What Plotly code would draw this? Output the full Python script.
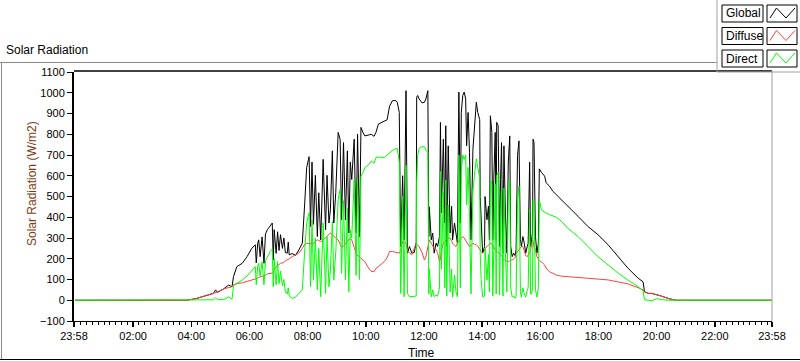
import plotly.graph_objects as go

DAY = "2024-06-01"
PREV_DAY = "2024-05-31"

times = [
    "00:00", "03:50", "04:10", "04:26", "04:46", "04:50", "04:54", "05:07", "05:17", "05:24",
    "05:27", "05:34", "05:45", "05:55", "06:05", "06:12", "06:14", "06:17", "06:19", "06:22",
    "06:26", "06:30", "06:33", "06:37", "06:43", "06:47", "06:49", "06:51", "06:55", "06:58",
    "07:01", "07:04", "07:08", "07:11", "07:14", "07:18", "07:20", "07:22", "07:28", "07:35",
    "07:42", "07:49", "07:54", "07:58", "08:03", "08:06", "08:09", "08:12", "08:16", "08:20",
    "08:23", "08:27", "08:32", "08:37", "08:40", "08:44", "08:47", "08:51", "08:54", "08:58",
    "09:03", "09:07", "09:10", "09:14", "09:18", "09:22", "09:25", "09:28", "09:31", "09:36",
    "09:40", "09:43", "09:47", "09:50", "09:54", "09:58", "10:07", "10:11", "10:17", "10:21",
    "10:26", "10:38", "10:44", "10:49", "10:55", "11:02", "11:05", "11:09", "11:12", "11:16",
    "11:19", "11:23", "11:26", "11:30", "11:35", "11:40", "11:44", "11:45", "11:47", "11:50",
    "11:56", "12:01", "12:04", "12:08", "12:10", "12:11", "12:15", "12:18", "12:21", "12:25",
    "12:28", "12:32", "12:34", "12:36", "12:40", "12:43", "12:45", "12:47", "12:50", "12:54",
    "12:57", "12:59", "13:03", "13:06", "13:09", "13:12", "13:15", "13:17", "13:20", "13:23",
    "13:26", "13:28", "13:31", "13:34", "13:37", "13:41", "13:44", "13:48", "13:51", "13:55",
    "13:56", "13:58", "14:01", "14:05", "14:06", "14:10", "14:13", "14:15", "14:17", "14:20",
    "14:22", "14:24", "14:27", "14:29", "14:30", "14:33", "14:36", "14:38", "14:40", "14:43",
    "14:45", "14:48", "14:51", "14:54", "14:57", "14:59", "15:02", "15:05", "15:08", "15:10",
    "15:13", "15:16", "15:19", "15:21", "15:24", "15:27", "15:30", "15:33", "15:35", "15:38",
    "15:40", "15:42", "15:44", "15:45", "15:47", "15:50", "15:53", "15:56", "15:58", "16:02",
    "16:05", "16:09", "16:12", "16:19", "16:26", "16:33", "16:44", "16:56", "17:18", "17:38",
    "17:59", "18:20", "18:41", "19:01", "19:22", "19:32", "19:35", "19:43", "19:50", "20:00",
    "20:10", "20:25", "20:40", "23:58",
]

global_rad = [
    0, 0, 8, 20, 33, 50, 38, 55, 73, 65,
    114, 162, 178, 210, 251, 267, 180, 275, 291, 210,
    305, 178, 320, 340, 356, 372, 194, 340, 226, 330,
    240, 316, 250, 300, 230, 227, 280, 219, 225, 216,
    243, 275, 469, 639, 692, 356, 666, 366, 602, 307,
    518, 291, 679, 340, 602, 372, 437, 720, 372, 518,
    809, 776, 388, 760, 388, 720, 324, 666, 582, 776,
    324, 800, 307, 833, 809, 792, 797, 800, 790, 809,
    849, 865, 870, 935, 962, 962, 954, 905, 259, 600,
    291, 1010, 227, 259, 227, 230, 280, 979, 987, 970,
    951, 954, 970, 1010, 307, 450, 291, 324, 227, 275,
    259, 307, 857, 421, 776, 372, 841, 259, 744, 324,
    453, 291, 372, 307, 275, 1003, 372, 905, 987, 1003,
    970, 744, 905, 711, 291, 728, 825, 954, 905, 870,
    501, 388, 227, 259, 500, 388, 453, 291, 889, 809,
    291, 582, 809, 291, 857, 841, 259, 582, 760, 227,
    744, 421, 227, 666, 792, 259, 210, 227, 215, 243,
    698, 768, 291, 259, 307, 275, 227, 259, 275, 666,
    259, 291, 330, 776, 760, 307, 227, 275, 633, 617,
    610, 598, 566, 550, 525, 509, 485, 453, 404, 356,
    316, 267, 210, 154, 106, 89, 40, 33, 33, 28,
    20, 8, 0, 0,
]

diffuse_rad = [
    0, 0, 8, 20, 33, 38, 40, 55, 62, 65,
    75, 80, 84, 90, 97, 103, 104, 106, 110, 112,
    114, 117, 120, 127, 129, 131, 135, 150, 162, 165,
    172, 178, 180, 182, 190, 194, 196, 200, 210, 218,
    227, 250, 270, 275, 275, 273, 272, 272, 285, 291,
    288, 283, 290, 300, 307, 315, 324, 315, 307, 300,
    291, 270, 255, 260, 275, 285, 290, 299, 290, 250,
    227, 215, 210, 202, 195, 186, 150, 140, 137, 154,
    162, 186, 205, 235, 235, 230, 227, 227, 240, 283,
    280, 275, 240, 227, 220, 250, 275, 270, 265, 259,
    230, 194, 210, 250, 280, 291, 275, 259, 250, 243,
    230, 186, 200, 240, 275, 285, 291, 295, 300, 300,
    285, 275, 265, 259, 275, 285, 291, 300, 307, 300,
    290, 280, 275, 259, 265, 275, 270, 267, 260, 243,
    240, 235, 227, 240, 250, 259, 265, 270, 275, 270,
    260, 250, 243, 240, 235, 230, 227, 220, 215, 202,
    195, 190, 188, 186, 190, 194, 194, 200, 205, 225,
    235, 245, 255, 259, 259, 240, 215, 210, 220, 227,
    240, 270, 291, 285, 260, 243, 210, 194, 190, 186,
    180, 170, 155, 137, 130, 121, 116, 113, 108, 106,
    102, 98, 88, 79, 60, 50, 42, 33, 33, 28,
    20, 8, 0, 0,
]

direct_rad = [
    0, 0, 0, 0, 2, 12, 3, 3, 16, 5,
    70, 81, 97, 117, 146, 162, 75, 165, 178, 117,
    185, 75, 190, 210, 235, 246, 65, 200, 75, 186,
    80, 140, 70, 100, 40, 30, 60, 20, 9, 15,
    33, 50, 243, 372, 421, 65, 388, 97, 300, 50,
    250, 17, 372, 33, 307, 65, 146, 380, 97, 230,
    485, 534, 130, 480, 97, 445, 41, 340, 300, 582,
    120, 582, 100, 598, 615, 639, 655, 671, 660, 688,
    690, 688, 700, 712, 722, 731, 731, 666, 33, 500,
    17, 650, 33, 17, 17, 17, 20, 565, 700, 731,
    740, 740, 722, 714, 30, 150, 17, 50, 17, 25,
    20, 60, 620, 150, 520, 60, 580, 20, 460, 40,
    150, 15, 120, 40, 17, 700, 60, 620, 700, 680,
    700, 460, 640, 400, 30, 520, 600, 682, 640, 590,
    227, 100, 17, 20, 250, 97, 220, 40, 580, 560,
    20, 330, 560, 30, 600, 617, 25, 340, 530, 20,
    540, 230, 40, 500, 582, 60, 15, 20, 10, 20,
    480, 550, 40, 15, 60, 30, 15, 50, 60, 440,
    30, 30, 60, 485, 480, 50, 15, 60, 485, 440,
    430, 425, 420, 413, 405, 400, 380, 348, 307, 259,
    210, 170, 130, 97, 65, 45, 2, 0, -3, 8,
    3, 0, 0, 0,
]

series_names = ["Global", "Diffuse", "Direct"]
series_colors = ["#000000", "#FF4040", "#00FF00"]

y_ticks = list(range(-100, 1101, 100))
x_tick_times = ["02:00", "04:00", "06:00", "08:00", "10:00", "12:00",
                "14:00", "16:00", "18:00", "20:00", "22:00"]

assert len(times) == len(global_rad) == len(diffuse_rad) == len(direct_rad)

xs = [f"{DAY} {t}" for t in times]
x_start = f"{PREV_DAY} 23:58"
x_end = f"{DAY} 23:58"
tickvals = [x_start] + [f"{DAY} {t}" for t in x_tick_times] + [x_end]
ticktext = ["23:58"] + x_tick_times + ["23:58"]

FONT = "Liberation Sans"

fig = go.Figure()
for name, vals, col in zip(series_names, [global_rad, diffuse_rad, direct_rad], series_colors):
    fig.add_trace(go.Scatter(x=xs, y=vals, mode="lines", name=name,
                             line=dict(color=col, width=1), showlegend=False,
                             hoverinfo="skip"))

# plot area geometry in pixels
L, R, T, B = 74, 772, 72, 321
W, H = R - L, B - T


def px(x):
    return (x - L) / W


def py(y):
    return (B - y) / H


shapes = []


def line(x0, y0, x1, y1, color, width=1):
    shapes.append(dict(type="line", xref="paper", yref="paper",
                       x0=px(x0), y0=py(y0), x1=px(x1), y1=py(y1),
                       line=dict(color=color, width=width)))


# outer panel frame
line(0, 62.5, 717, 62.5, "#8c8c8c")
line(1.5, 62, 1.5, 359, "#8c8c8c")
line(0, 359.5, 800, 359.5, "#000000")
# plot box top / right
line(L, 71, R, 71, "#000000", 1.5)
line(R, 71, R, B, "#a0a0a0")
# legend panel edges
line(717, 0, 717, 72, "#a0a0a0")
line(717, 72, 800, 72, "#a0a0a0")

annotations = []
legend_rows = [(5, 22), (27.5, 44.5), (50, 67)]
for (y0, y1), name, col in zip(legend_rows, series_names, series_colors):
    shapes.append(dict(type="rect", xref="paper", yref="paper",
                       x0=px(722), x1=px(763), y0=py(y1), y1=py(y0),
                       line=dict(color="black", width=1), fillcolor="white"))
    shapes.append(dict(type="rect", xref="paper", yref="paper",
                       x0=px(767), x1=px(797), y0=py(y1), y1=py(y0),
                       line=dict(color="black", width=1), fillcolor="white"))
    pts = [(770, y1 - 4), (776.5, y0 + 3), (786, y1 - 4), (795, y0 + 3)]
    path = "M " + " L ".join(f"{px(a)},{py(b)}" for a, b in pts)
    shapes.append(dict(type="path", xref="paper", yref="paper", path=path,
                       line=dict(color=col, width=1)))
    annotations.append(dict(xref="paper", yref="paper", x=px(724), y=py((y0 + y1) / 2),
                            text=name, showarrow=False, xanchor="left", yanchor="middle",
                            font=dict(family=FONT, size=12, color="black")))

annotations.append(dict(xref="paper", yref="paper", x=px(4), y=py(50),
                        text="Solar Radiation", showarrow=False, xanchor="left",
                        yanchor="middle", font=dict(family=FONT, size=12, color="black")))
annotations.append(dict(xref="paper", yref="paper", x=px(32), y=py(184),
                        text="Solar Radiation (W/m2)", showarrow=False, textangle=-90,
                        xanchor="center", yanchor="middle",
                        font=dict(family=FONT, size=12, color="#7a3c10")))
annotations.append(dict(xref="paper", yref="paper", x=px(421), y=py(353),
                        text="Time", showarrow=False, xanchor="center", yanchor="middle",
                        font=dict(family=FONT, size=12, color="black")))

fig.update_layout(
    width=800, height=361,
    margin=dict(l=L, r=800 - R, t=T, b=361 - B, pad=0),
    paper_bgcolor="white", plot_bgcolor="white",
    shapes=shapes, annotations=annotations,
    showlegend=False,
    xaxis=dict(type="date", range=[x_start, x_end], tickmode="array",
               tickvals=tickvals, ticktext=ticktext,
               ticks="outside", ticklen=5, tickwidth=1.5, tickcolor="black",
               showline=True, linecolor="black", linewidth=1,
               showgrid=False, zeroline=False,
               tickfont=dict(family=FONT, size=11, color="black"),
               minor=dict(ticks="outside", ticklen=3, tickwidth=1, tickcolor="black",
                          dtick=12 * 60 * 1000, tick0=f"{DAY} 00:00", showgrid=False)),
    yaxis=dict(range=[-100, 1100], tickmode="array", tickvals=y_ticks,
               ticks="outside", ticklen=5, tickwidth=1, tickcolor="black",
               showline=True, linecolor="black", linewidth=2,
               showgrid=False, zeroline=False,
               tickfont=dict(family=FONT, size=11, color="black")),
)

fig.write_html(
    "out.html",
    config={"displayModeBar": False, "staticPlot": True},
    post_script="document.body.style.margin='0px';document.body.style.overflow='hidden';",
)
